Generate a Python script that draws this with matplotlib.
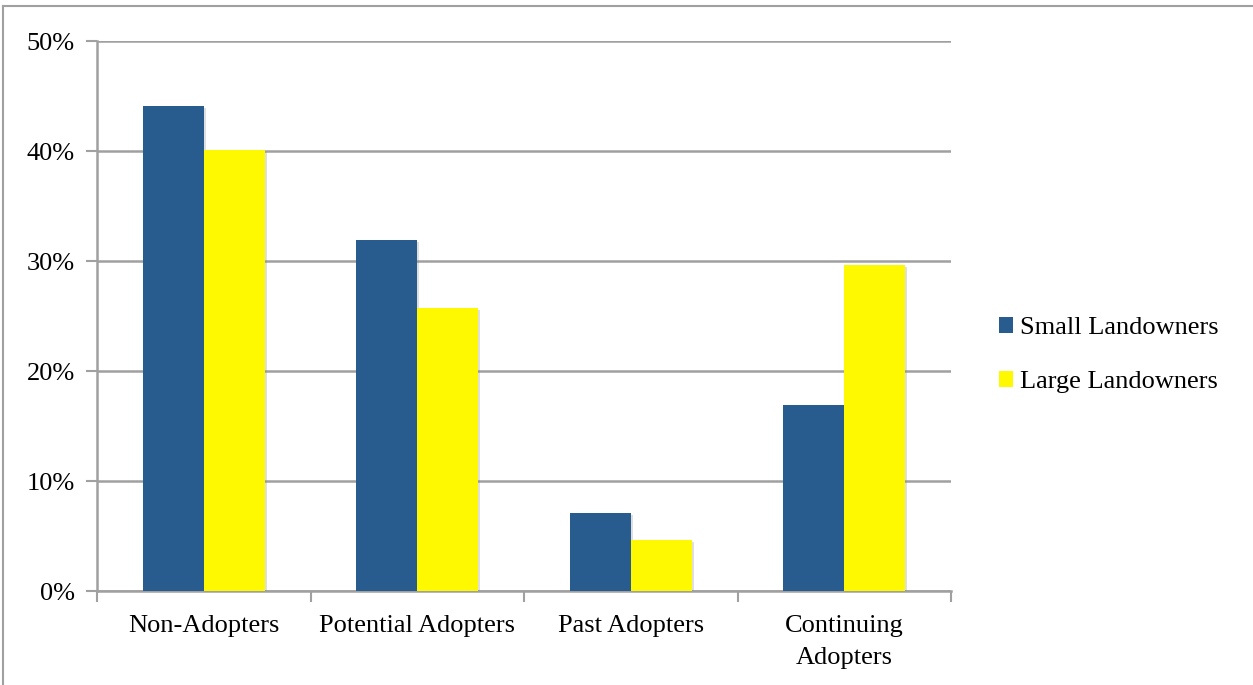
import numpy as np
import matplotlib
matplotlib.use("Agg")
import matplotlib.pyplot as plt
import matplotlib.patheffects as pe
from matplotlib.lines import Line2D
from matplotlib.patches import Patch

categories = ["Non-Adopters", "Potential Adopters", "Past Adopters", "Continuing\nAdopters"]
small_owners = [44.1, 31.9, 7.1, 16.9]
large_owners = [40.1, 25.7, 4.6, 29.6]
series_names = ["Small Landowners", "Large Landowners"]

blue = "#285C8E"
yellow = "#FFF900"
grey = "#A0A0A0"

plt.rcParams["font.family"] = ["Liberation Serif", "DejaVu Serif"]
fs = 19

fig = plt.figure(figsize=(12.53, 6.85), dpi=100)
ax = fig.add_axes([97 / 1253, 1 - 591 / 685, (951 - 97) / 1253, (591 - 41) / 685])

x = np.arange(len(categories))
w = 0.286
# faint drop shadow under the bars
shadow = [pe.SimplePatchShadow(offset=(1.5, -1.5), shadow_rgbFace="#808080", alpha=0.25), pe.Normal()]
ax.bar(x - w / 2, small_owners, width=w, color=blue, zorder=3, path_effects=shadow)
ax.bar(x + w / 2, large_owners, width=w, color=yellow, zorder=3, path_effects=shadow)

ax.set_xlim(-0.5, len(categories) - 0.5)
ax.set_ylim(0, 50)
ax.set_yticks(range(0, 51, 10))
ax.set_yticklabels([f"{v}%" for v in range(0, 51, 10)], fontsize=fs, va="center_baseline")
ax.yaxis.grid(True, color=grey, linewidth=1.8, zorder=0)

# category labels centred, tick marks on the boundaries
ax.set_xticks(x)
ax.set_xticklabels(categories, fontsize=fs, linespacing=1.6)
ax.set_xticks(np.arange(-0.5, len(categories), 1), minor=True)
ax.tick_params(axis="x", which="major", length=0, pad=17)
ax.tick_params(axis="x", which="minor", length=8, width=1.5, color=grey, direction="out")
ax.tick_params(axis="y", length=8, width=1.5, color=grey, pad=8)

for side in ["top", "right"]:
    ax.spines[side].set_visible(False)
for side in ["left", "bottom"]:
    ax.spines[side].set_color(grey)
    ax.spines[side].set_linewidth(1.8)

handles = [Patch(facecolor=blue), Patch(facecolor=yellow)]
fig.legend(handles, series_names, loc="center left", bbox_to_anchor=(975 / 1253, 1 - 355 / 685),
           frameon=False, fontsize=fs, handlelength=0.55, handleheight=0.55,
           handletextpad=0.25, labelspacing=1.2)

# outer chart frame
fig.add_artist(Line2D([3 / 1253, 1], [1 - 6 / 685, 1 - 6 / 685], color=grey, linewidth=1.5))
fig.add_artist(Line2D([3 / 1253, 3 / 1253], [0, 1 - 6 / 685], color=grey, linewidth=1.5))

fig.savefig("out.png", dpi=100)
